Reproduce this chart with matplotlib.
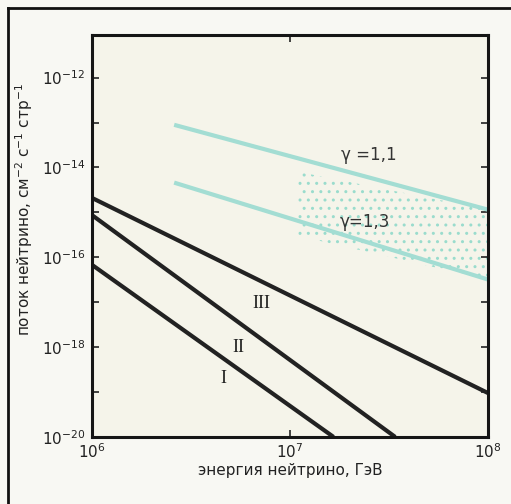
import matplotlib.pyplot as plt
from matplotlib.lines import Line2D
from matplotlib.ticker import NullFormatter, NullLocator

# energy (GeV) and flux (cm^-2 s^-1 sr^-1) end points
energy_I = [1e6, 1.66e7]
flux_I = [6.8e-17, 1e-20]
energy_II = [1e6, 3.4e7]
flux_II = [8.7e-16, 1e-20]
energy_III = [1e6, 1e8]
flux_III = [2.1e-15, 9.5e-20]

energy_g = [2.6e6, 1e8]
flux_g11 = [8.9e-14, 1.15e-15]
flux_g13 = [4.6e-15, 3.2e-17]

# stippled band between the gamma lines (right part only)
band_x = [1.1e7, 1e8]
band_lo = [3.0e-16, 3.2e-17]
band_hi = [8.0e-15, 1.15e-15]

curve_labels = ['I', 'II', 'III']
curve_label_pos = [(4.6e6, 2.0e-19), (5.5e6, 1.0e-18), (7.2e6, 9.5e-18)]
gamma_labels = ['\u03b3 =1,1', '\u03b3=1,3']
gamma_label_pos = [(2.5e7, 1.9e-14), (2.4e7, 6.2e-16)]

xticks = [1e6, 1e7, 1e8]
xtick_labels = ['$10^6$', '$10^7$', '$10^8$']
yticks = [1e-20, 1e-18, 1e-16, 1e-14, 1e-12]
ytick_labels = ['$10^{-20}$', '$10^{-18}$', '$10^{-16}$', '$10^{-14}$', '$10^{-12}$']
yminor = [1e-19, 1e-17, 1e-15, 1e-13]

plt.rcParams['mathtext.fontset'] = 'dejavusans'

fig = plt.figure(figsize=(5.11, 5.04), dpi=100, facecolor='#f8f8f3')
ax = fig.add_axes([0.180, 0.133, 0.775, 0.798])
ax.set_facecolor('#f5f4ea')
ax.set_xscale('log')
ax.set_yscale('log')
ax.set_xlim(1e6, 1e8)
ax.set_ylim(1e-20, 9e-12)

ax.fill_between(band_x, band_lo, band_hi, facecolor='none', edgecolor='#9adccd',
                hatch='..', linewidth=0)

ax.plot(energy_g, flux_g11, color='#a3ddd3', lw=3, solid_capstyle='butt')
ax.plot(energy_g, flux_g13, color='#a3ddd3', lw=3, solid_capstyle='butt')

for ex, fl in [(energy_I, flux_I), (energy_II, flux_II), (energy_III, flux_III)]:
    ax.plot(ex, fl, color='#222222', lw=3, solid_capstyle='butt')

for lab, (px, py) in zip(curve_labels, curve_label_pos):
    ax.text(px, py, lab, fontsize=13, family='Liberation Serif', color='#222222',
            ha='center', va='center')
for lab, (px, py) in zip(gamma_labels, gamma_label_pos):
    ax.text(px, py, lab, fontsize=12, family='DejaVu Sans', color='#333333',
            ha='center', va='center')

ax.set_xticks(xticks)
ax.set_xticklabels(xtick_labels)
ax.xaxis.set_minor_locator(NullLocator())
ax.set_yticks(yticks)
ax.set_yticklabels(ytick_labels)
ax.set_yticks(yminor, minor=True)
ax.yaxis.set_minor_formatter(NullFormatter())
ax.tick_params(which='both', direction='in', length=5, width=1.2, top=True, right=True,
               labelsize=11, colors='#222222', pad=5)
ax.tick_params(axis='x', pad=4)
for s in ax.spines.values():
    s.set_linewidth(2.2)
    s.set_color('#151515')

ax.set_xlabel('энергия нейтрино, ГэВ', fontsize=11, color='#222222', labelpad=1)
ax.set_ylabel('поток нейтрино, см$^{-2}$ с$^{-1}$ стр$^{-1}$', fontsize=11,
              color='#222222')
ax.yaxis.set_label_coords(-0.145, 0.565)

# outer frame of the figure
fig.add_artist(Line2D([8 / 511, 8 / 511], [0, 1 - 8 / 504], color='#111111', lw=2))
fig.add_artist(Line2D([8 / 511, 1], [1 - 8 / 504, 1 - 8 / 504], color='#111111', lw=2))

fig.savefig('out.png', dpi=100, facecolor=fig.get_facecolor())
